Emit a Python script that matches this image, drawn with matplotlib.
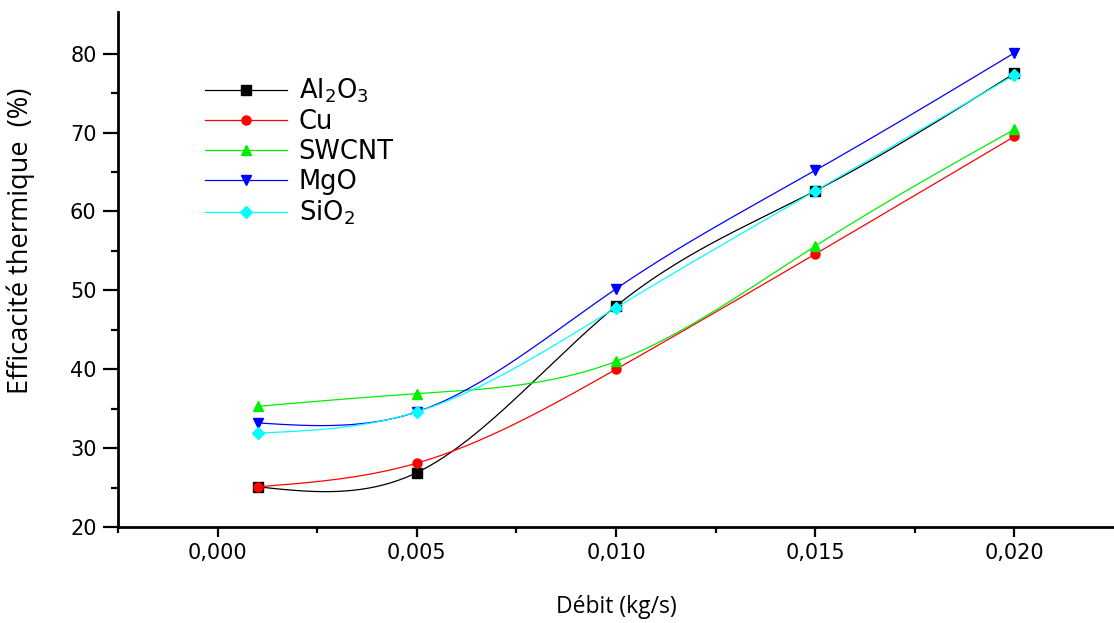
import numpy as np
import matplotlib.pyplot as plt

# Débit (kg/s) and efficacité thermique (%)
debit = [0.001, 0.005, 0.010, 0.015, 0.020]
al2o3 = [25.1, 26.9, 48.0, 62.6, 77.5]
cu = [25.1, 28.1, 40.0, 54.6, 69.5]
swcnt = [35.3, 36.9, 41.0, 55.6, 70.4]
mgo = [33.2, 34.6, 50.2, 65.2, 80.1]
sio2 = [31.9, 34.6, 47.8, 62.6, 77.3]

labels = ["Al$_2$O$_3$", "Cu", "SWCNT", "MgO", "SiO$_2$"]
colors = ["black", "red", "#00ee00", "blue", "cyan"]
markers = ["s", "o", "^", "v", "D"]

plt.rcParams["font.family"] = ["DejaVu Sans"]
plt.rcParams["mathtext.default"] = "regular"
label_font = ["Open Sans", "DejaVu Sans"]


def spline(x, y, n=200):
    # natural cubic spline, like the smoothed lines in Origin
    x = np.asarray(x, float)
    y = np.asarray(y, float)
    k = len(x)
    h = np.diff(x)
    A = np.zeros((k, k))
    b = np.zeros(k)
    A[0, 0] = A[-1, -1] = 1
    for i in range(1, k - 1):
        A[i, i - 1] = h[i - 1]
        A[i, i] = 2 * (h[i - 1] + h[i])
        A[i, i + 1] = h[i]
        b[i] = 6 * ((y[i + 1] - y[i]) / h[i] - (y[i] - y[i - 1]) / h[i - 1])
    M = np.linalg.solve(A, b)
    xs = np.linspace(x[0], x[-1], n)
    idx = np.clip(np.searchsorted(x, xs) - 1, 0, k - 2)
    t0 = x[idx + 1] - xs
    t1 = xs - x[idx]
    hh = h[idx]
    ys = (M[idx] * t0 ** 3 + M[idx + 1] * t1 ** 3) / (6 * hh) \
        + (y[idx] / hh - M[idx] * hh / 6) * t0 \
        + (y[idx + 1] / hh - M[idx + 1] * hh / 6) * t1
    return xs, ys


fig = plt.figure(figsize=(11.14, 6.23), dpi=100)
ax = fig.add_axes([0.106, 0.154, 0.894, 0.827])

series = [al2o3, cu, swcnt, mgo, sio2]
for vals, lab, c, m in zip(series, labels, colors, markers):
    xs, ys = spline(debit, vals)
    ax.plot(xs, ys, color=c, lw=0.9)
    ax.plot(debit, vals, color=c, marker=m, ms=6.5, ls="none")
    ax.plot([], [], color=c, marker=m, ms=6.5, lw=0.9, label=lab)

ax.set_xlim(-0.0025, 0.0225)
ax.set_ylim(20, 85.3)
ax.set_xticks([0.0, 0.005, 0.010, 0.015, 0.020])
ax.set_xticklabels(["0,000", "0,005", "0,010", "0,015", "0,020"], fontsize=15)
ax.set_xticks([-0.0025, 0.0025, 0.0075, 0.0125, 0.0175], minor=True)
ax.set_yticks([20, 30, 40, 50, 60, 70, 80])
ax.set_yticks([25, 35, 45, 55, 65, 75], minor=True)
ax.tick_params(axis="y", labelsize=15)

ax.spines["top"].set_visible(False)
ax.spines["right"].set_visible(False)
ax.spines["left"].set_linewidth(2.0)
ax.spines["bottom"].set_linewidth(2.0)
ax.tick_params(axis="y", which="major", direction="out", length=11, width=1.6, pad=4.5)
ax.tick_params(axis="y", which="minor", direction="out", length=5, width=1.6)
ax.tick_params(axis="x", which="major", direction="out", length=7, width=1.6, pad=4.5)
ax.tick_params(axis="x", which="minor", direction="out", length=4.5, width=1.6)

ax.set_xlabel("Débit (kg/s)", family=label_font, fontsize=16.5, labelpad=23)
ax.set_ylabel("Efficacité thermique  (%)", family=label_font, fontsize=19.5)
ax.yaxis.set_label_coords(-0.083, 0.555)

ax.legend(loc="upper left", bbox_to_anchor=(0.087, 0.874), frameon=False,
          borderpad=0, borderaxespad=0, handlelength=3.2, handletextpad=0.45,
          labelspacing=0.15, prop={"size": 18.5})

fig.savefig("out.png", dpi=100)
